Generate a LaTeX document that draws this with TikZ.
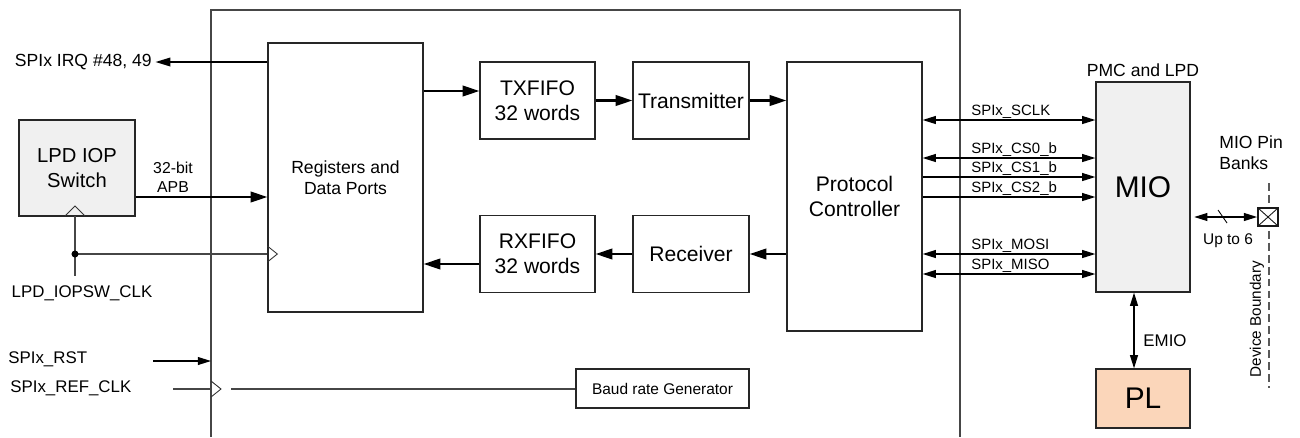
\documentclass[tikz,border=0pt]{standalone}
\usepackage{fontspec}
\setmainfont{Liberation Sans}
\usepackage{tikz}
\usetikzlibrary{arrows.meta, calc}
\definecolor{mioGray}{RGB}{240,240,240}
\definecolor{plPeach}{RGB}{251,214,186}
\definecolor{frameGray}{RGB}{70,70,70}
\newcommand{\fsz}[1]{\fontsize{#1pt}{\dimexpr #1pt*12/10\relax}\selectfont}
\tikzset{
    block/.style={
        rectangle, draw=black!85, line width=0.75pt, fill=white,
        align=center, inner sep=0pt, font=\fsz{12}
    },
    grayblock/.style={
        block, fill=mioGray
    },
    frame/.style={
        line width=0.75pt, draw=frameGray
    },
    wire/.style={
        line width=0.75pt, draw=frameGray
    },
    clktri/.style={
        line width=0.5pt, draw=black!80
    },
    datarrow/.style={
        line width=1.2pt, -{Triangle[length=9.5pt, width=6pt]}
    },
    sig/.style={
        line width=0.7pt, -{Triangle[length=7.5pt, width=4.5pt]}
    },
    sigboth/.style={
        line width=0.7pt, {Triangle[length=7.5pt, width=4.5pt]}-{Triangle[length=7.5pt, width=4.5pt]}
    },
    lbl/.style={
        inner sep=0pt, align=center, font=\fsz{9.6}
    },
    siglbl/.style={
        anchor=base west, inner sep=0pt, font=\fsz{8.5}
    },
    pinbox/.style={
        rectangle, draw=black!90, line width=1pt, fill=white,
        minimum width=0.4cm, minimum height=0.36cm, inner sep=0pt,
        path picture={
            \draw[line width=0.5pt] (path picture bounding box.south west) -- (path picture bounding box.north east)
                (path picture bounding box.north west) -- (path picture bounding box.south east);
        }
    },
    boundary/.style={
        line width=0.7pt, draw=black!65, dash pattern=on 4.5pt off 2.3pt
    }
}

\begin{document}
\begin{tikzpicture}[x=0.02cm, y=-0.02cm]
    \useasboundingbox (0,0) rectangle (1300,437);

    % SPI controller boundary (open at the bottom)
    \draw[frame] (211,437) -- (211,10) -- (960,10) -- (960,437);

    % Core blocks
    \node[block, font=\fsz{10}, minimum width=3.1cm, minimum height=5.38cm] (regs) at (345.5,177.5) {Registers and\\Data Ports};
    \node[block, minimum width=2.3cm, minimum height=1.54cm] (txfifo) at (537.5,100.5) {TXFIFO\\32 words};
    \node[block, minimum width=2.3cm, minimum height=1.54cm] (rxfifo) at (537.5,254) {RXFIFO\\32 words};
    \node[block, minimum width=2.32cm, minimum height=1.54cm] (tx) at (691,100.5) {Transmitter};
    \node[block, minimum width=2.32cm, minimum height=1.54cm] (rx) at (691,254) {Receiver};
    \node[block, minimum width=2.7cm, minimum height=5.38cm] (proto) at (854.5,196.5) {Protocol\\Controller};
    \node[block, font=\fsz{8.8}, minimum width=3.46cm, minimum height=0.78cm] (baud) at (662.5,388.5) {Baud rate Generator};

    % Data path
    \draw[datarrow] (regs.east |- 0,91) -- (txfifo.west |- 0,91);
    \draw[datarrow] (txfifo) -- (tx);
    \draw[datarrow] (tx) -- (proto.west |- tx);
    \draw[datarrow] (proto.west |- rx) -- (rx);
    \draw[datarrow] (rx) -- (rxfifo);
    \draw[datarrow] (rxfifo.west |- 0,264) -- (regs.east |- 0,264);

    % LPD side
    \node[grayblock, font=\fsz{11.5}, minimum width=2.32cm, minimum height=1.92cm] (iop) at (77,168) {LPD IOP\\Switch};
    \node[lbl, font=\fsz{9}] (apb) at (173,177) {32-bit\\APB};
    \draw[datarrow] (iop.east |- 0,197) -- (regs.west |- 0,197);

    \node[lbl, font=\fsz{10}, anchor=east] (irq) at (152,62) {SPIx IRQ \#48, 49};
    \draw[line width=0.7pt, -{Triangle[length=8.5pt, width=5pt]}] (regs.west |- irq) -- ([xshift=2pt]irq.east);

    % LPD IOP clock
    \coordinate (iopclk) at (75,216);
    \coordinate (clksrc) at (75,276);
    \coordinate (tap) at (75,254);
    \draw[clktri] ($(iopclk)+(-10,0)$) -- ++(10,-10) -- ++(10,10);
    \draw[wire] (iopclk) -- (clksrc);
    \draw[wire] (tap) -- (regs.west |- tap);
    \fill (tap) circle (2pt);
    \draw[clktri] (regs.west |- 0,246) -- ++(10,8) -- ++(-10,8);
    \node[lbl] (iopclkname) at (82,293) {LPD\_IOPSW\_CLK};

    % Reset and reference clock
    \node[lbl, anchor=west] (rst) at (8,359) {SPIx\_RST};
    \coordinate (rstsrc) at (153,361);
    \coordinate (rstpin) at (211,361);
    \draw[sig] (rstsrc) -- (rstpin);

    \node[lbl, anchor=west] (refclk) at (10,388) {SPIx\_REF\_CLK};
    \coordinate (refsrc) at (173,389);
    \coordinate (refpin) at (211,389);
    \coordinate (refint) at (231,389);
    \draw[wire] (refsrc) -- (refpin);
    \draw[clktri] (211,381) -- ++(10,8) -- ++(-10,8);
    \draw[wire] (refint) -- (baud.west |- refint);

    % MIO and PL
    \node[grayblock, font=\fsz{17}, minimum width=1.88cm, minimum height=4.2cm] (mio) at (1143,187) {MIO};
    \node[lbl, font=\fsz{10}, anchor=south] (pmc) at ([yshift=2.5pt]mio.north) {PMC and LPD};
    \node[block, fill=plPeach, font=\fsz{17}, minimum width=1.88cm, minimum height=1.18cm] (pl) at (1143,398.5) {PL};
    \draw[sigboth] ([xshift=-0.18cm]mio.south) -- ([xshift=-0.18cm]pl.north);
    \node[lbl, font=\fsz{9.6}] (emio) at (1165,341) {EMIO};

    % SPI signals
    \draw[sigboth] (proto.east |- 0,120) -- (mio.west |- 0,120);
    \node[siglbl] (sclk) at (971,115) {SPIx\_SCLK};
    \draw[sigboth] (proto.east |- 0,158) -- (mio.west |- 0,158);
    \node[siglbl] (cs0) at (971,153) {SPIx\_CS0\_b};
    \draw[sig] (proto.east |- 0,177) -- (mio.west |- 0,177);
    \node[siglbl] (cs1) at (971,172) {SPIx\_CS1\_b};
    \draw[sig] (proto.east |- 0,197) -- (mio.west |- 0,197);
    \node[siglbl] (cs2) at (971,192) {SPIx\_CS2\_b};
    \draw[sigboth] (proto.east |- 0,254) -- (mio.west |- 0,254);
    \node[siglbl] (mosi) at (971,249) {SPIx\_MOSI};
    \draw[sigboth] (proto.east |- 0,274) -- (mio.west |- 0,274);
    \node[siglbl] (miso) at (971,269) {SPIx\_MISO};

    % Pins and device boundary
    \coordinate (devtop) at (1269,183);
    \coordinate (devbot) at (1269,388);
    \draw[boundary] (devtop) -- (devbot);
    \node[pinbox] (pin) at (1268,217) {};
    \draw[sigboth] ([xshift=2pt]mio.east |- pin) -- (pin.west);
    \draw[line width=0.5pt] (1218,210) -- (1227,223);
    \node[lbl, font=\fsz{8.8}, anchor=base] (upto) at (1228,244) {Up to 6};
    \node[lbl, font=\fsz{10}, align=left, anchor=west] (banks) at (1219,153) {MIO Pin\\Banks};
    \node[lbl, font=\fsz{8.7}, rotate=90] (devb) at (1257,319) {Device Boundary};
\end{tikzpicture}
\end{document}
